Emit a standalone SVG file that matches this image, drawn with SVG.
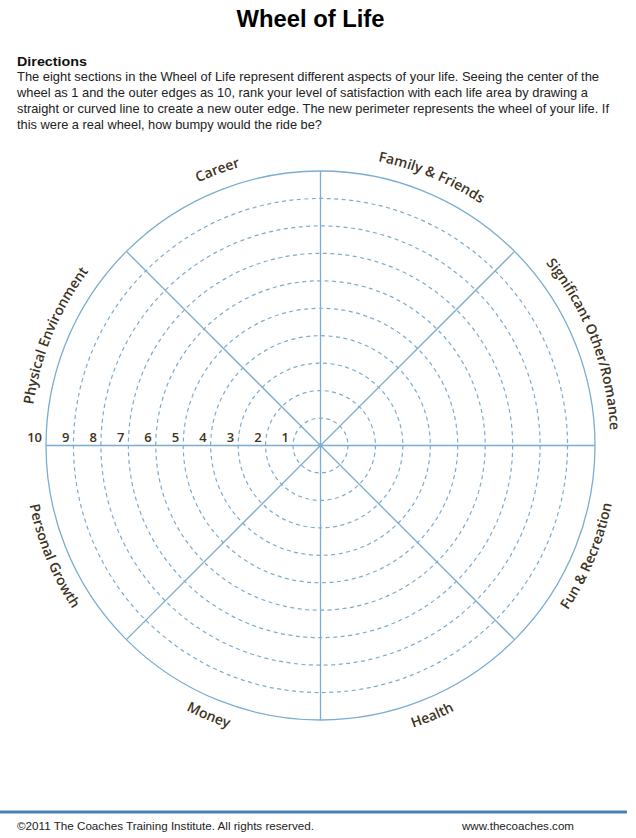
<svg xmlns="http://www.w3.org/2000/svg" xmlns:xlink="http://www.w3.org/1999/xlink" width="636" height="838" viewBox="0 0 636 838">
<style>
.solid{fill:none;stroke:#7badd0;stroke-width:1.3}
.dash{fill:none;stroke:#7eaacc;stroke-width:1.2;stroke-dasharray:4 3.5}
.lab{font-family:"Open Sans","DejaVu Sans",sans-serif;font-weight:600;font-size:14px;fill:#3d3323}
.num{font-family:"Open Sans","DejaVu Sans",sans-serif;font-weight:600;font-size:13px;fill:#3d3323;text-anchor:end}
.body{font-family:"Liberation Sans",Arial,sans-serif;font-size:13px;fill:#222}
.foot{font-family:"Liberation Sans",Arial,sans-serif;font-size:11px;fill:#222}
</style>
<defs>
<path id="topArc" d="M47.99,346.31 A290,290 0 0 1 593.01,346.31"/>
<path id="botArc" d="M41.41,547.08 A297,297 0 0 0 599.59,547.08"/>
</defs>
<rect width="636" height="838" fill="#fff"/>
<text x="310.5" y="27" text-anchor="middle" font-family="Liberation Sans,Arial,sans-serif" font-weight="bold" font-size="24" fill="#000" textLength="148" lengthAdjust="spacingAndGlyphs">Wheel of Life</text>
<text x="17" y="65.5" font-family="Liberation Sans,Arial,sans-serif" font-weight="bold" font-size="13.5" fill="#111" textLength="70" lengthAdjust="spacingAndGlyphs">Directions</text>
<g class="body">
<text x="17" y="81" textLength="582" lengthAdjust="spacingAndGlyphs">The eight sections in the Wheel of Life represent different aspects of your life. Seeing the center of the</text>
<text x="17" y="97" textLength="571" lengthAdjust="spacingAndGlyphs">wheel as 1 and the outer edges as 10, rank your level of satisfaction with each life area by drawing a</text>
<text x="17" y="113" textLength="592" lengthAdjust="spacingAndGlyphs">straight or curved line to create a new outer edge. The new perimeter represents the wheel of your life. If</text>
<text x="17" y="129" textLength="305" lengthAdjust="spacingAndGlyphs">this were a real wheel, how bumpy would the ride be?</text>
</g>
<g id="wheel">
<g id="rings">
<circle class="dash" cx="320.5" cy="445.5" r="27.45"/>
<circle class="dash" cx="320.5" cy="445.5" r="54.9"/>
<circle class="dash" cx="320.5" cy="445.5" r="82.35"/>
<circle class="dash" cx="320.5" cy="445.5" r="109.8"/>
<circle class="dash" cx="320.5" cy="445.5" r="137.25"/>
<circle class="dash" cx="320.5" cy="445.5" r="164.7"/>
<circle class="dash" cx="320.5" cy="445.5" r="192.15"/>
<circle class="dash" cx="320.5" cy="445.5" r="219.6"/>
<circle class="dash" cx="320.5" cy="445.5" r="247.05"/>
<circle class="solid" cx="320.5" cy="445.5" r="274.5"/>
</g>
<g id="spokes">
<line class="solid" x1="320.5" y1="171" x2="320.5" y2="720"/>
<line class="solid" x1="46" y1="445.5" x2="595" y2="445.5"/>
<line class="solid" x1="126.4" y1="251.4" x2="514.6" y2="639.6"/>
<line class="solid" x1="514.6" y1="251.4" x2="126.4" y2="639.6"/>
<circle cx="320.5" cy="445.5" r="2" fill="#7badd0"/>
</g>
</g>
<g id="scale">
<text class="num" x="42" y="442">10</text>
<text class="num" x="69.5" y="442">9</text>
<text class="num" x="97" y="442">8</text>
<text class="num" x="124.4" y="442">7</text>
<text class="num" x="151.8" y="442">6</text>
<text class="num" x="179.3" y="442">5</text>
<text class="num" x="206.7" y="442">4</text>
<text class="num" x="234.2" y="442">3</text>
<text class="num" x="261.6" y="442">2</text>
<text class="num" x="289" y="442">1</text>
</g>
<g id="career" transform="rotate(-20.5 320.5 445.5)"><text class="lab"><textPath xlink:href="#topArc" href="#topArc" startOffset="50%" text-anchor="middle">Career</textPath></text></g>
<g id="family" transform="rotate(22.5 320.5 445.5)"><text class="lab"><textPath xlink:href="#topArc" href="#topArc" startOffset="50%" text-anchor="middle">Family &amp; Friends</textPath></text></g>
<g id="significant" transform="rotate(69 320.5 445.5)"><text class="lab"><textPath xlink:href="#topArc" href="#topArc" startOffset="50%" text-anchor="middle">Significant Other/Romance</textPath></text></g>
<g id="physical" transform="rotate(-67.5 320.5 445.5)"><text class="lab"><textPath xlink:href="#topArc" href="#topArc" startOffset="50%" text-anchor="middle">Physical Environment</textPath></text></g>
<g id="fun" transform="rotate(-67.5 320.5 445.5)"><text class="lab"><textPath xlink:href="#botArc" href="#botArc" startOffset="50%" text-anchor="middle">Fun &amp; Recreation</textPath></text></g>
<g id="health" transform="rotate(-22.5 320.5 445.5)"><text class="lab"><textPath xlink:href="#botArc" href="#botArc" startOffset="50%" text-anchor="middle">Health</textPath></text></g>
<g id="money" transform="rotate(22.5 320.5 445.5)"><text class="lab"><textPath xlink:href="#botArc" href="#botArc" startOffset="50%" text-anchor="middle">Money</textPath></text></g>
<g id="personal" transform="rotate(67.5 320.5 445.5)"><text class="lab"><textPath xlink:href="#botArc" href="#botArc" startOffset="50%" text-anchor="middle">Personal Growth</textPath></text></g>
<g id="footer">
<line x1="0" y1="812" x2="627" y2="812" stroke="#4a7ebb" stroke-width="3"/>
<text class="foot" x="17" y="830" textLength="297" lengthAdjust="spacingAndGlyphs">©2011 The Coaches Training Institute. All rights reserved.</text>
<text class="foot" x="462" y="830" textLength="112" lengthAdjust="spacingAndGlyphs">www.thecoaches.com</text>
</g>
</svg>
